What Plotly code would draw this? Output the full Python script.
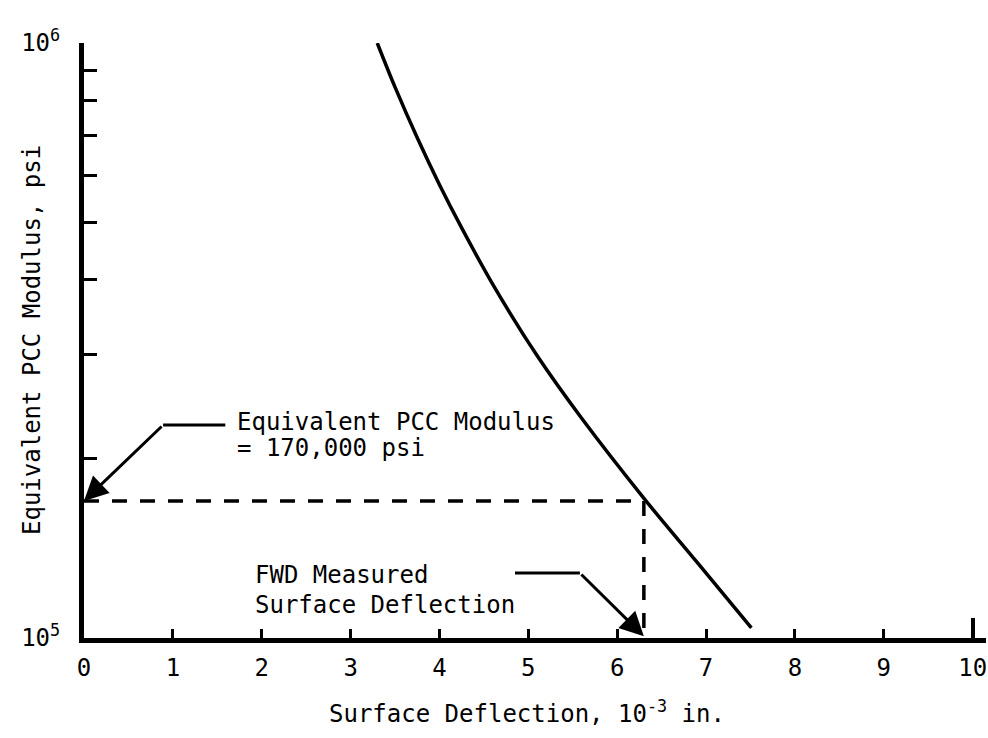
import plotly.graph_objects as go
import numpy as np

# ---- data ----
deflection = [3.30, 3.50, 3.75, 4.00, 4.25, 4.60, 5.10, 5.60, 6.31, 6.90, 7.51]
modulus = [1.0e6, 8.43e5, 6.93e5, 5.78e5, 4.89e5, 3.93e5, 2.98e5, 2.34e5, 1.71e5, 1.34e5, 1.04e5]

fwd_deflection = 6.3          # 10^-3 in.
equiv_modulus = 170000        # psi

x_ticks = list(range(0, 11))
x_ticklabels = [str(v) for v in x_ticks]
y_major = [1e5, 1e6]
y_major_labels = ["10<sup>5</sup>", "10<sup>6</sup>"]
y_minor = [2e5, 3e5, 4e5, 5e5, 6e5, 7e5, 8e5, 9e5]

FONT = "DejaVu Sans Mono"
W, H = 988, 738
ML, MR, MT, MB = 84, 2, 43, 100
XMAX = 10.15

fig = go.Figure()

# main curve
fig.add_trace(go.Scatter(x=deflection, y=modulus, mode="lines",
                         line=dict(color="black", width=3.5, shape="spline", smoothing=1.0),
                         hoverinfo="skip", showlegend=False))

# dashed reading lines
fig.add_trace(go.Scatter(x=[0, fwd_deflection, fwd_deflection],
                         y=[equiv_modulus, equiv_modulus, 1e5], mode="lines",
                         line=dict(color="black", width=3.5, dash="15px,13px"),
                         hoverinfo="skip", showlegend=False))

# leader for "Equivalent PCC Modulus"
eq_corner_x, eq_end_x, eq_y = 0.89, 1.59, 2.28e5
fig.add_trace(go.Scatter(x=[eq_end_x, eq_corner_x], y=[eq_y, eq_y], mode="lines",
                         line=dict(color="black", width=3), hoverinfo="skip", showlegend=False))
fig.add_annotation(x=0, y=np.log10(equiv_modulus), ax=eq_corner_x, ay=np.log10(eq_y),
                   xref="x", yref="y", axref="x", ayref="y", text="", showarrow=True,
                   arrowhead=2, arrowsize=1.6, arrowwidth=3, arrowcolor="black")

# leader for "FWD Measured Surface Deflection"
fwd_start_x, fwd_corner_x, fwd_y = 4.85, 5.58, 1.286e5
fig.add_trace(go.Scatter(x=[fwd_start_x, fwd_corner_x], y=[fwd_y, fwd_y], mode="lines",
                         line=dict(color="black", width=3), hoverinfo="skip", showlegend=False))
fig.add_annotation(x=fwd_deflection, y=np.log10(1.0e5) + 0.003, ax=fwd_corner_x, ay=np.log10(fwd_y),
                   xref="x", yref="y", axref="x", ayref="y", text="", showarrow=True,
                   arrowhead=2, arrowsize=1.6, arrowwidth=3, arrowcolor="black")

# text labels
txt = dict(font=dict(family=FONT, size=24, color="black"), showarrow=False,
           xanchor="left", yanchor="middle", xref="x", yref="y")
fig.add_annotation(x=1.70, y=np.log10(2.31e5), text="Equivalent PCC Modulus", **txt)
fig.add_annotation(x=1.70, y=np.log10(2.09e5), text="= 170,000 psi", **txt)
fig.add_annotation(x=1.90, y=np.log10(1.276e5), text="FWD Measured", **txt)
fig.add_annotation(x=1.90, y=np.log10(1.136e5), text="Surface Deflection", **txt)

# axis titles
pw, ph = W - ML - MR, H - MT - MB
fig.add_annotation(x=(32 - ML) / pw, y=(H - MB - 340) / ph, xref="paper", yref="paper",
                   text="Equivalent PCC Modulus, psi", textangle=-90, showarrow=False,
                   xanchor="center", yanchor="middle",
                   font=dict(family=FONT, size=24, color="black"))
fig.add_annotation(x=(527 - ML) / pw, y=(H - MB - 712) / ph, xref="paper", yref="paper",
                   text="Surface Deflection, 10<sup>-3</sup> in.", showarrow=False,
                   xanchor="center", yanchor="middle",
                   font=dict(family=FONT, size=24, color="black"))

# dummy trace for overlay axis (tall tick at 10)
fig.add_trace(go.Scatter(x=[None], y=[None], xaxis="x2", yaxis="y", mode="lines",
                         hoverinfo="skip", showlegend=False))

fig.update_layout(
    width=W, height=H,
    margin=dict(l=ML, r=MR, t=MT, b=MB),
    paper_bgcolor="white", plot_bgcolor="white",
    showlegend=False,
    xaxis=dict(range=[0, XMAX], tickvals=x_ticks, ticktext=x_ticklabels,
               ticks="inside", ticklen=9, tickwidth=3, tickcolor="black",
               showline=True, linewidth=5, linecolor="black",
               showgrid=False, zeroline=False, ticklabelstandoff=4,
               tickfont=dict(family=FONT, size=24, color="black")),
    xaxis2=dict(range=[0, XMAX], overlaying="x", anchor="y", side="bottom",
                tickvals=[10], ticks="inside", ticklen=20, tickwidth=4, tickcolor="black",
                showticklabels=False, showline=False, showgrid=False, zeroline=False),
    yaxis=dict(type="log", range=[5, 6], tickvals=y_major, ticktext=y_major_labels,
               ticks="inside", ticklen=20, tickwidth=4, tickcolor="black",
               minor=dict(tickvals=y_minor, ticks="inside", ticklen=13, tickwidth=3, tickcolor="black"),
               showline=True, linewidth=5, linecolor="black",
               showgrid=False, zeroline=False, ticklabelstandoff=14,
               tickfont=dict(family=FONT, size=24, color="black")),
)

fig.write_html("out.html", config={"displayModeBar": False},
               post_script="document.body.style.margin='0';")
